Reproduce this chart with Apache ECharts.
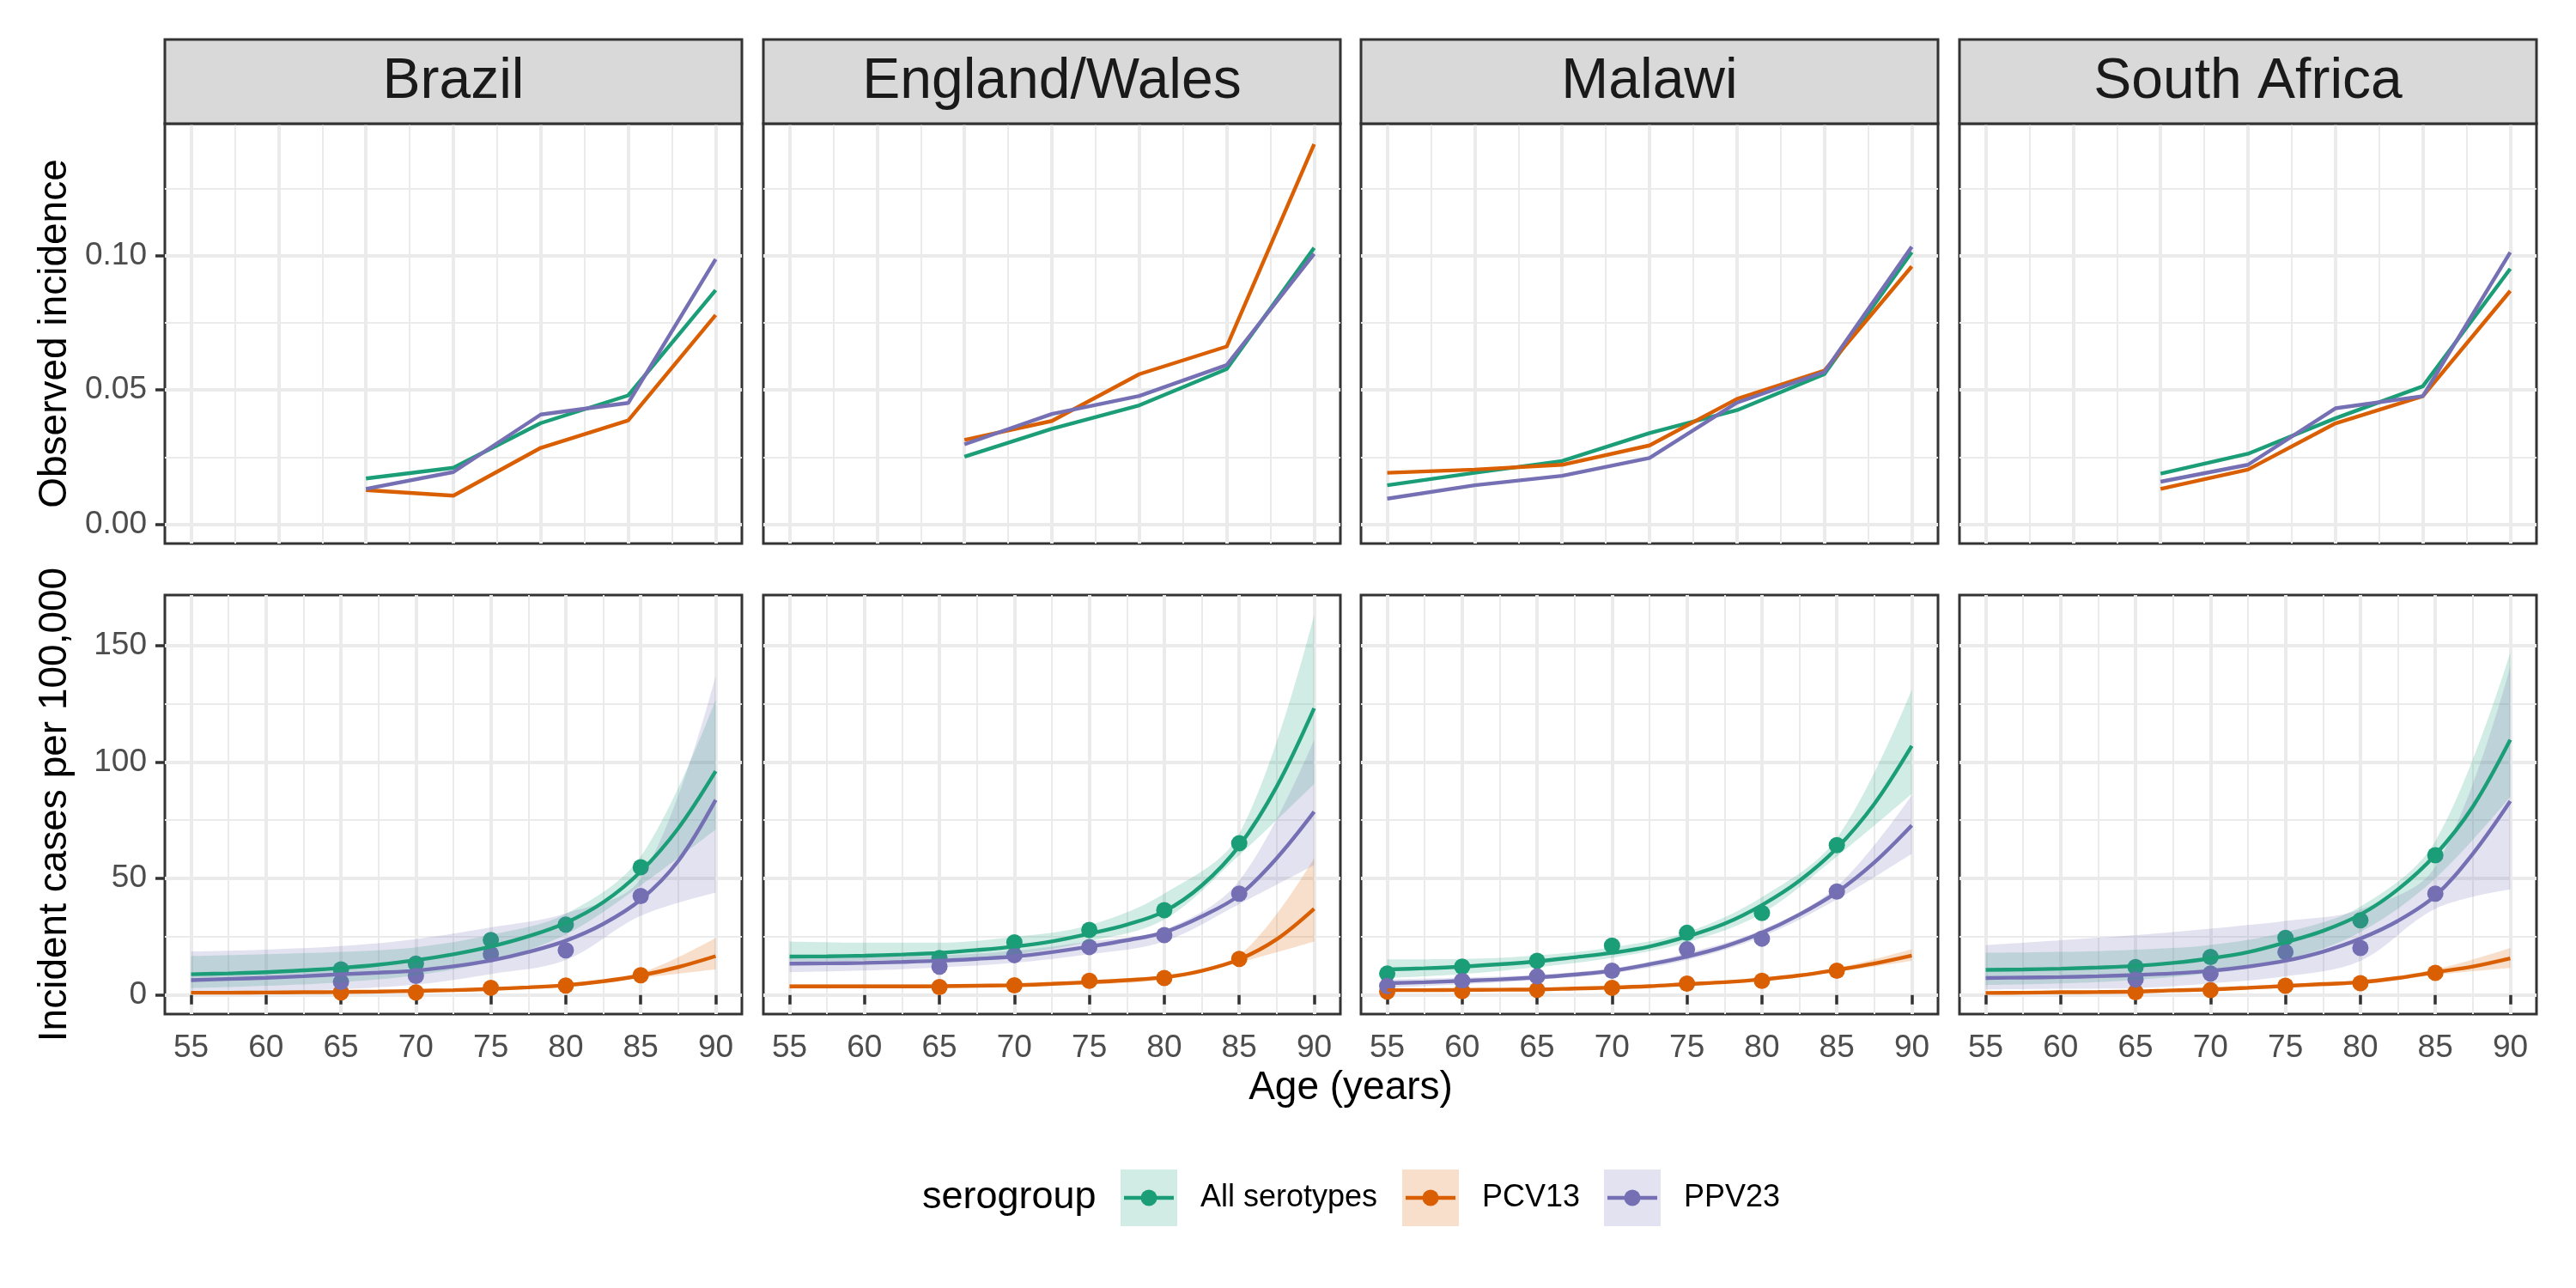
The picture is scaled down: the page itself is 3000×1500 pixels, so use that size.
<!DOCTYPE html>
<html>
<head>
<meta charset="utf-8">
<script src="https://cdn.jsdelivr.net/npm/echarts@6/dist/echarts.min.js"></script>
<style>
html, body { margin: 0; padding: 0; background: #fff; }
#main { width: 3000px; height: 1500px; }
</style>
</head>
<body>
<div id="main"></div>
<script>
let countries = ['Brazil', 'England/Wales', 'Malawi', 'South Africa'];
let groups = ['All serotypes', 'PCV13', 'PPV23'];
let groupColors = ['#1B9E77', '#D95F02', '#7570B3'];
let groupFills = ['#D1ECE4', '#F7DFCC', '#E3E2F0'];

// axis ticks
let ageGroups = [1, 2, 3, 4, 5, 6, 7];
let ageGroupMinor = [1.5, 2.5, 3.5, 4.5, 5.5, 6.5];
let ageTicks = [55, 60, 65, 70, 75, 80, 85, 90];
let ageMinor = [57.5, 62.5, 67.5, 72.5, 77.5, 82.5, 87.5];
let incTicks = [0, 0.05, 0.1];
let incMinor = [0.025, 0.075, 0.125];
let caseTicks = [0, 50, 100, 150];
let caseMinor = [25, 75, 125];

// x values of fitted curves and ribbons
let fitAges = [55, 57.5, 60, 62.5, 65, 67.5, 70, 72.5, 75, 77.5, 80, 82.5, 85, 87.5, 90];
let bandAges = [55, 60, 65, 70, 75, 80, 85, 90];

// Brazil
let brObsGroups = [3, 4, 5, 6, 7];
let brObsAll = [0.0171, 0.0211, 0.0377, 0.0480, 0.0872];
let brObsPcv = [0.0128, 0.0107, 0.0285, 0.0387, 0.0779];
let brObsPpv = [0.0132, 0.0195, 0.0409, 0.0452, 0.0987];
let brFitAll = [8.9, 9.3, 9.8, 10.6, 11.6, 13.0, 15.0, 17.5, 20.8, 25.2, 31.0, 39.8, 53.0, 71.5, 96.0];
let brFitPcv = [1.0, 1.0, 1.1, 1.2, 1.3, 1.5, 1.8, 2.1, 2.6, 3.3, 4.2, 5.9, 8.4, 12.0, 16.7];
let brFitPpv = [6.4, 6.9, 7.4, 8.1, 8.9, 9.6, 10.5, 12.3, 14.8, 18.5, 23.3, 30.5, 40.9, 57.5, 83.7];
let brLoAll = [3.0, 4.0, 5.5, 8.5, 14.5, 26.0, 47.0, 71.0];
let brHiAll = [16.7, 17.5, 18.5, 20.5, 25.8, 34.8, 59.4, 126.7];
let brLoPcv = [0.6, 0.7, 0.9, 1.3, 2.0, 3.4, 7.3, 11.0];
let brHiPcv = [1.5, 1.6, 1.8, 2.2, 3.2, 5.0, 9.5, 24.5];
let brLoPpv = [1.0, 1.5, 2.5, 4.5, 9.0, 15.0, 34.0, 44.0];
let brHiPpv = [18.7, 19.5, 21.0, 24.0, 29.0, 35.0, 50.0, 137.0];
let brPtAges = [65, 70, 75, 80, 85];
let brPtAll = [11.0, 13.5, 23.6, 30.2, 54.8];
let brPtPcv = [1.1, 1.1, 3.1, 4.1, 8.5];
let brPtPpv = [5.6, 8.2, 17.6, 19.2, 42.5];

// England/Wales
let enObsGroups = [3, 4, 5, 6, 7];
let enObsAll = [0.0252, 0.0356, 0.0443, 0.0578, 0.1029];
let enObsPcv = [0.0314, 0.0385, 0.0559, 0.0662, 0.1415];
let enObsPpv = [0.0298, 0.0411, 0.0478, 0.0593, 0.1007];
let enFitAll = [16.5, 16.6, 16.9, 17.4, 18.1, 19.3, 20.8, 23.0, 26.3, 30.2, 35.9, 47.0, 64.0, 89.4, 123.0];
let enFitPcv = [3.7, 3.7, 3.7, 3.7, 3.8, 4.0, 4.2, 4.8, 5.5, 6.4, 7.6, 10.4, 15.3, 23.9, 37.0];
let enFitPpv = [13.5, 13.6, 13.8, 14.2, 14.7, 15.5, 16.5, 18.4, 20.8, 23.5, 26.9, 33.7, 42.8, 58.7, 78.6];
let enLoAll = [14.5, 14.8, 15.5, 17.5, 23.0, 32.4, 60.0, 90.6];
let enHiAll = [23.0, 22.5, 22.5, 25.0, 30.0, 43.5, 69.0, 163.0];
let enLoPcv = [2.8, 2.9, 3.0, 3.5, 4.5, 6.7, 14.0, 23.0];
let enHiPcv = [4.6, 4.6, 4.6, 5.0, 6.5, 8.5, 17.0, 58.7];
let enLoPpv = [9.8, 10.5, 11.8, 13.8, 17.5, 23.0, 39.0, 55.7];
let enHiPpv = [16.5, 16.5, 17.0, 19.0, 23.0, 28.0, 49.0, 109.5];
let enPtAges = [65, 70, 75, 80, 85];
let enPtAll = [15.9, 22.6, 27.9, 36.4, 65.1];
let enPtPcv = [3.4, 4.2, 6.1, 7.3, 15.5];
let enPtPpv = [12.2, 17.1, 20.6, 25.7, 43.5];

// Malawi
let mwObsGroups = [1, 2, 3, 4, 5, 6, 7];
let mwObsAll = [0.0146, 0.0192, 0.0236, 0.0340, 0.0425, 0.0559, 0.1013];
let mwObsPcv = [0.0192, 0.0204, 0.0222, 0.0294, 0.0467, 0.0572, 0.0960];
let mwObsPpv = [0.0096, 0.0146, 0.0181, 0.0247, 0.0453, 0.0567, 0.1033];
let mwFitAll = [11.0, 11.5, 12.2, 13.2, 14.4, 16.2, 18.1, 20.8, 25.1, 30.6, 38.6, 49.0, 63.0, 82.0, 106.9];
let mwFitPcv = [2.1, 2.1, 2.2, 2.3, 2.4, 2.8, 3.2, 3.8, 4.7, 5.5, 6.7, 8.4, 10.8, 13.5, 16.9];
let mwFitPpv = [5.1, 5.5, 6.1, 6.7, 7.6, 8.8, 10.4, 13.2, 16.5, 20.8, 26.7, 34.5, 44.1, 56.9, 72.8];
let mwLoAll = [7.3, 9.0, 12.0, 16.0, 22.6, 35.0, 59.4, 86.3];
let mwHiAll = [15.3, 15.5, 17.0, 20.5, 27.0, 42.0, 67.3, 131.0];
let mwLoPcv = [1.6, 1.7, 2.0, 2.8, 4.2, 6.2, 10.0, 14.7];
let mwHiPcv = [2.6, 2.7, 2.9, 3.6, 5.2, 7.2, 11.6, 19.6];
let mwLoPpv = [3.1, 4.6, 6.5, 9.3, 15.0, 25.0, 41.0, 60.6];
let mwHiPpv = [6.7, 7.5, 8.7, 11.5, 18.0, 28.0, 46.5, 85.7];
let mwPtAges = [55, 60, 65, 70, 75, 80, 85];
let mwPtAll = [9.2, 12.2, 14.7, 21.2, 26.7, 35.2, 64.3];
let mwPtPcv = [1.5, 1.7, 2.2, 3.1, 4.9, 6.1, 10.4];
let mwPtPpv = [3.9, 6.1, 8.0, 10.4, 19.6, 24.2, 44.4];

// South Africa
let saObsGroups = [3, 4, 5, 6, 7];
let saObsAll = [0.0189, 0.0263, 0.0395, 0.0514, 0.0951];
let saObsPcv = [0.0132, 0.0204, 0.0376, 0.0477, 0.0869];
let saObsPpv = [0.0159, 0.0222, 0.0432, 0.0477, 0.1012];
let saFitAll = [10.8, 11.0, 11.3, 11.8, 12.5, 13.8, 15.7, 18.4, 22.6, 27.5, 34.5, 45.3, 60.2, 80.8, 109.5];
let saFitPcv = [0.9, 1.0, 1.2, 1.3, 1.5, 2.0, 2.4, 3.1, 3.9, 4.7, 5.5, 7.3, 9.8, 12.2, 15.7];
let saFitPpv = [7.3, 7.5, 7.7, 8.1, 8.6, 9.3, 10.4, 12.2, 14.7, 18.6, 24.2, 31.8, 42.6, 60.6, 83.2];
let saLoAll = [4.3, 5.0, 6.5, 9.5, 15.0, 27.0, 50.0, 85.0];
let saHiAll = [18.1, 18.5, 19.5, 21.5, 27.0, 38.0, 66.0, 146.9];
let saLoPcv = [0.5, 0.7, 1.0, 1.8, 3.1, 4.6, 8.6, 11.6];
let saHiPcv = [1.5, 1.7, 2.1, 3.1, 4.7, 6.4, 11.0, 20.2];
let saLoPpv = [2.4, 2.7, 3.0, 5.0, 8.0, 14.7, 37.0, 45.3];
let saHiPpv = [21.4, 23.5, 25.7, 28.5, 31.8, 36.7, 55.0, 140.8];
let saPtAges = [65, 70, 75, 80, 85];
let saPtAll = [12.0, 16.3, 24.5, 32.1, 60.0];
let saPtPcv = [1.2, 2.1, 4.0, 5.1, 9.5];
let saPtPpv = [6.7, 9.2, 18.4, 20.2, 43.5];

let panels = [
  { obsX: brObsGroups, obs: [brObsAll, brObsPcv, brObsPpv], fit: [brFitAll, brFitPcv, brFitPpv],
    lo: [brLoAll, brLoPcv, brLoPpv], hi: [brHiAll, brHiPcv, brHiPpv], ptX: brPtAges, pt: [brPtAll, brPtPcv, brPtPpv] },
  { obsX: enObsGroups, obs: [enObsAll, enObsPcv, enObsPpv], fit: [enFitAll, enFitPcv, enFitPpv],
    lo: [enLoAll, enLoPcv, enLoPpv], hi: [enHiAll, enHiPcv, enHiPpv], ptX: enPtAges, pt: [enPtAll, enPtPcv, enPtPpv] },
  { obsX: mwObsGroups, obs: [mwObsAll, mwObsPcv, mwObsPpv], fit: [mwFitAll, mwFitPcv, mwFitPpv],
    lo: [mwLoAll, mwLoPcv, mwLoPpv], hi: [mwHiAll, mwHiPcv, mwHiPpv], ptX: mwPtAges, pt: [mwPtAll, mwPtPcv, mwPtPpv] },
  { obsX: saObsGroups, obs: [saObsAll, saObsPcv, saObsPpv], fit: [saFitAll, saFitPcv, saFitPpv],
    lo: [saLoAll, saLoPcv, saLoPpv], hi: [saHiAll, saHiPcv, saHiPpv], ptX: saPtAges, pt: [saPtAll, saPtPcv, saPtPpv] }
];

let FONT = 'Liberation Sans, Arial, sans-serif';
let panelLeft = [192, 889, 1585, 2282];
let panelW = 672;

function zip(xs, ys) {
  return xs.map(function (x, i) { return [x, ys[i]]; });
}
// value first, age second: the stack then runs on the y dimension
function zipYX(xs, ys) {
  return xs.map(function (x, i) { return [ys[i], x]; });
}

let grid = [], xAxis = [], yAxis = [], series = [], graphic = [];

function majorAxis(gi, pos, min, max, ticks, showTicks, fmt) {
  return {
    type: 'value', gridIndex: gi, position: pos, min: min, max: max,
    axisLine: { show: false },
    axisTick: { show: showTicks, customValues: ticks, length: 11, lineStyle: { color: '#333333', width: 3.5 } },
    axisLabel: { show: showTicks, customValues: ticks, formatter: fmt, color: '#4D4D4D',
      fontSize: 37, fontFamily: FONT, margin: 21 },
    splitLine: { show: true, lineStyle: { color: '#EBEBEB', width: 4 } }
  };
}
function minorAxis(gi, pos, min, max, ticks) {
  return {
    type: 'value', gridIndex: gi, position: pos, min: min, max: max,
    axisLine: { show: false },
    axisTick: { show: false, customValues: ticks },
    axisLabel: { show: false, customValues: ticks },
    splitLine: { show: true, lineStyle: { color: '#EBEBEB', width: 2 } }
  };
}

panels.forEach(function (p, c) {
  let gTop = c * 2, gBot = c * 2 + 1;
  grid.push({ left: panelLeft[c], top: 144, width: panelW, height: 489, show: true,
    borderColor: '#333333', borderWidth: 3, backgroundColor: '#fff', containLabel: false, outerBoundsMode: 'none' });
  grid.push({ left: panelLeft[c], top: 693, width: panelW, height: 488, show: true,
    borderColor: '#333333', borderWidth: 3, backgroundColor: '#fff', containLabel: false, outerBoundsMode: 'none' });

  // top row axes
  xAxis.push(majorAxis(gTop, 'bottom', 0.7, 7.3, ageGroups, false, null));
  xAxis.push(minorAxis(gTop, 'top', 0.7, 7.3, ageGroupMinor));
  let yt = majorAxis(gTop, 'left', -0.0071, 0.1491, incTicks, c === 0, function (v) { return v.toFixed(2); });
  if (c === 0) {
    yt.name = 'Observed incidence';
    yt.nameLocation = 'middle';
    yt.nameGap = 105;
    yt.nameTextStyle = { color: '#000', fontSize: 46, fontFamily: FONT };
  }
  yAxis.push(yt);
  yAxis.push(minorAxis(gTop, 'right', -0.0071, 0.1491, incMinor));

  // bottom row axes
  xAxis.push(majorAxis(gBot, 'bottom', 53.25, 91.75, ageTicks, true, function (v) { return String(v); }));
  xAxis.push(minorAxis(gBot, 'top', 53.25, 91.75, ageMinor));
  let yb = majorAxis(gBot, 'left', -8.17, 171.6, caseTicks, c === 0, function (v) { return String(v); });
  if (c === 0) {
    yb.name = 'Incident cases per 100,000';
    yb.nameLocation = 'middle';
    yb.nameGap = 105;
    yb.nameTextStyle = { color: '#000', fontSize: 46, fontFamily: FONT };
  }
  yAxis.push(yb);
  yAxis.push(minorAxis(gBot, 'right', -8.17, 171.6, caseMinor));

  // observed incidence lines
  groups.forEach(function (g, k) {
    series.push({
      name: g, type: 'line', xAxisIndex: gTop * 2, yAxisIndex: gTop * 2,
      data: zip(p.obsX, p.obs[k]), showSymbol: false, symbol: 'none',
      lineStyle: { color: groupColors[k], width: 4.4 }, itemStyle: { color: groupColors[k] }
    });
  });

  // ribbons: lower bound + (upper - lower) stacked on it
  groups.forEach(function (g, k) {
    let stackId = 'band' + c + '_' + k;
    series.push({
      name: g, type: 'line', xAxisIndex: gBot * 2, yAxisIndex: gBot * 2, stack: stackId,
      encode: { x: 1, y: 0 },
      data: zipYX(bandAges, p.lo[k]), showSymbol: false, symbol: 'none', smooth: 0.35, silent: true,
      lineStyle: { opacity: 0, width: 0 }, itemStyle: { color: groupColors[k] }
    });
    series.push({
      name: g, type: 'line', xAxisIndex: gBot * 2, yAxisIndex: gBot * 2, stack: stackId,
      encode: { x: 1, y: 0 },
      data: zipYX(bandAges, p.hi[k].map(function (h, i) { return h - p.lo[k][i]; })),
      showSymbol: false, symbol: 'none', smooth: 0.35, silent: true,
      lineStyle: { opacity: 0, width: 0 }, itemStyle: { color: groupColors[k] },
      areaStyle: { color: groupColors[k], opacity: 0.2 }
    });
  });
  // fitted curves
  groups.forEach(function (g, k) {
    series.push({
      name: g, type: 'line', xAxisIndex: gBot * 2, yAxisIndex: gBot * 2,
      data: zip(fitAges, p.fit[k]), showSymbol: false, symbol: 'none', smooth: 0.35,
      lineStyle: { color: groupColors[k], width: 4.4 }, itemStyle: { color: groupColors[k] }
    });
  });
  // observed points
  groups.forEach(function (g, k) {
    series.push({
      name: g, type: 'scatter', xAxisIndex: gBot * 2, yAxisIndex: gBot * 2,
      data: zip(p.ptX, p.pt[k]), symbol: 'circle', symbolSize: 19,
      itemStyle: { color: groupColors[k], opacity: 1 }
    });
  });

  // facet strip
  graphic.push({ type: 'rect', z: 5, shape: { x: panelLeft[c], y: 46, width: panelW, height: 98 },
    style: { fill: '#D9D9D9', stroke: '#333333', lineWidth: 3 } });
  graphic.push({ type: 'text', z: 6, x: panelLeft[c] + panelW / 2, y: 96,
    style: { text: countries[c], font: '66px ' + FONT, fill: '#1A1A1A',
      align: 'center', verticalAlign: 'middle', textAlign: 'center', textVerticalAlign: 'middle' } });
});

// x axis title
graphic.push({ type: 'text', z: 6, x: 1573, y: 1267,
  style: { text: 'Age (years)', font: '46px ' + FONT, fill: '#000',
    align: 'center', verticalAlign: 'middle', textAlign: 'center', textVerticalAlign: 'middle' } });

// legend title and key marks
graphic.push({ type: 'text', z: 6, x: 1074, y: 1395,
  style: { text: 'serogroup', font: '45px ' + FONT, fill: '#000',
    align: 'left', verticalAlign: 'middle', textAlign: 'left', textVerticalAlign: 'middle' } });
let keyLeft = [1305, 1633, 1868];
let legend = [];
groups.forEach(function (g, k) {
  legend.push({
    left: keyLeft[k], top: 1362, padding: 0, itemWidth: 66, itemHeight: 66, itemGap: 0,
    selectedMode: false,
    data: [{ name: g, icon: 'rect', itemStyle: { color: groupFills[k], borderWidth: 0, opacity: 1 } }],
    textStyle: { color: '#000', fontSize: 36, fontFamily: FONT, padding: [0, 0, 0, 22] }
  });
  graphic.push({ type: 'line', z: 10, shape: { x1: keyLeft[k] + 4, y1: 1395, x2: keyLeft[k] + 62, y2: 1395 },
    style: { stroke: groupColors[k], lineWidth: 4.4 } });
  graphic.push({ type: 'circle', z: 11, shape: { cx: keyLeft[k] + 33, cy: 1395, r: 9.5 },
    style: { fill: groupColors[k] } });
});

let chart = echarts.init(document.getElementById('main'));
chart.setOption({
  backgroundColor: '#fff',
  animation: false,
  grid: grid,
  xAxis: xAxis,
  yAxis: yAxis,
  legend: legend,
  series: series,
  graphic: graphic
});
</script>
</body>
</html>
